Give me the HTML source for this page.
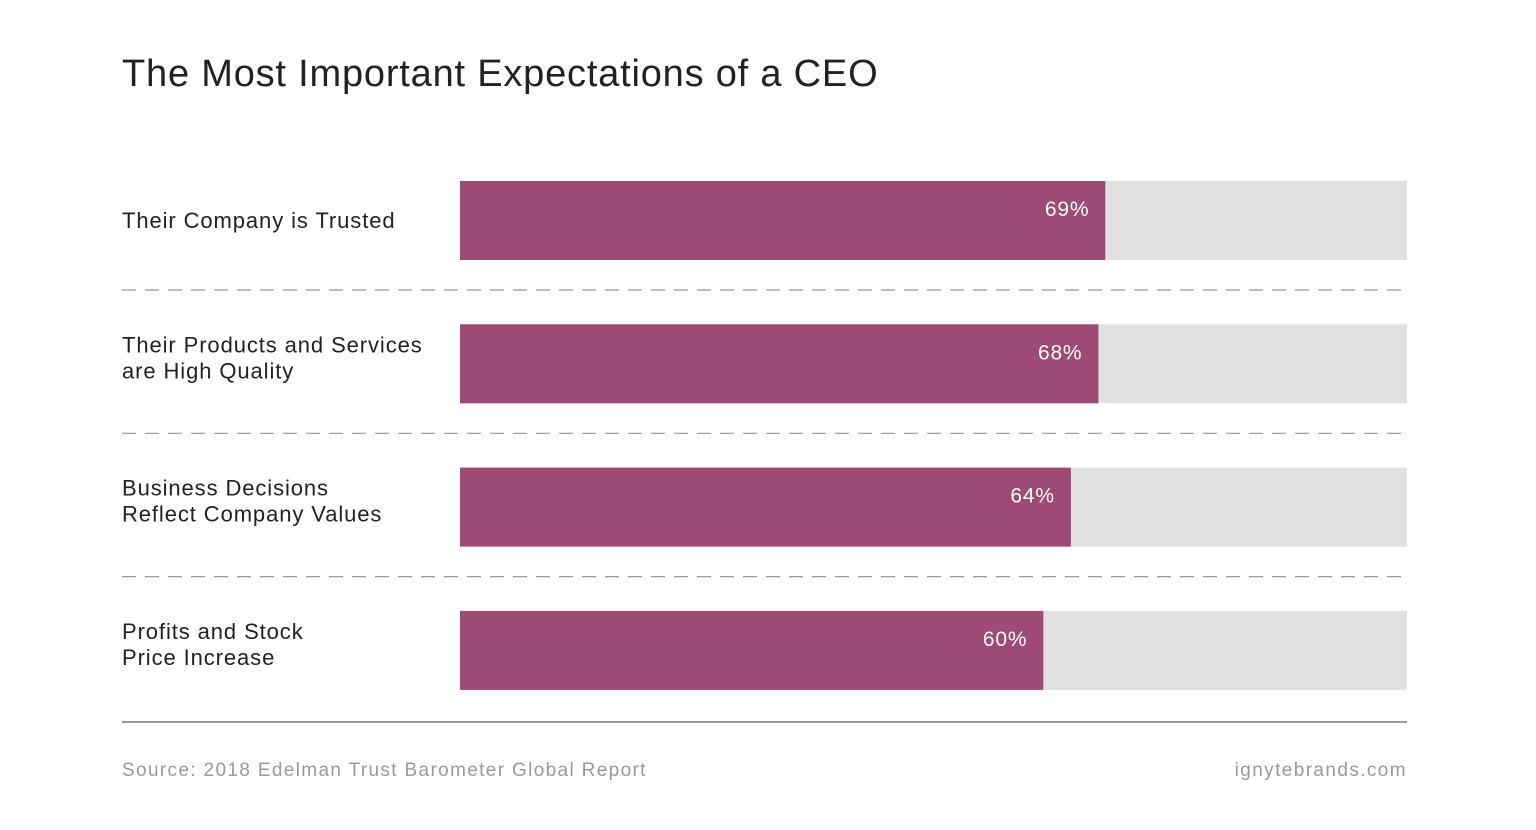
<!DOCTYPE html>
<html><head><meta charset="utf-8"><style>
body{margin:0;background:#fff;width:1536px;height:825px;overflow:hidden;font-family:"Liberation Sans",sans-serif;}
svg text{font-family:"Liberation Sans",sans-serif;}
</style></head><body>
<svg id="chart" width="1536" height="825">
<text x="122" y="86" font-size="38" fill="#222" letter-spacing="0.8">The Most Important Expectations of a CEO</text>
<g id="bars"></g>
<line x1="122" y1="722" x2="1407" y2="722" stroke="#777" stroke-width="1.5"/>
<text x="122" y="776" font-size="19" fill="#999" letter-spacing="1.35">Source: 2018 Edelman Trust Barometer Global Report</text>
<text x="1407" y="776" font-size="19" fill="#999" text-anchor="end" letter-spacing="1.4">ignytebrands.com</text>
</svg>
<script>
const categories=[["Their Company is Trusted"],["Their Products and Services","are High Quality"],["Business Decisions","Reflect Company Values"],["Profits and Stock","Price Increase"]];
const values=[69,68,64,60];
const valueLabels=["69%","68%","64%","60%"];
const x0=460,x1=1407;
const xScale=v=>630.1+v*6.887;
const rowY=i=>181+i*143.3;
const barH=79;
const ns="http://www.w3.org/2000/svg";
const g=document.getElementById('bars');
function mk(t,a){const e=document.createElementNS(ns,t);for(const k in a)e.setAttribute(k,a[k]);return e;}
categories.forEach((c,i)=>{
 const y=rowY(i);
 const bg=mk('rect',{x:x0,y:y,width:x1-x0,height:barH,fill:'#e1e1e1'});
 
 
 g.appendChild(bg);
 const b=mk('rect',{x:x0,y:y,width:xScale(values[i])-x0,height:barH,fill:'#9e4a76'});
 
 
 g.appendChild(b);
 const vt=mk('text',{x:xScale(values[i])-16,y:y+35,'font-size':21,fill:'#fff','text-anchor':'end','letter-spacing':'0.8'});
 vt.textContent=valueLabels[i];
 
 
 g.appendChild(vt);
 const cy=c.length===1?y+47:y+28;
 c.forEach((line,j)=>{
  const t=mk('text',{x:122,y:cy+j*26,'font-size':22,fill:'#222','letter-spacing':'0.9'});
  t.textContent=line;
  
  
  g.appendChild(t);
 });
 if(i<categories.length-1){
  const d=mk('line',{x1:122,x2:1407,y1:y+barH+30,y2:y+barH+30,stroke:'#999','stroke-width':1.2,'stroke-dasharray':'14 9'});
  
  
  g.appendChild(d);
 }
});
</script>
</body></html>
